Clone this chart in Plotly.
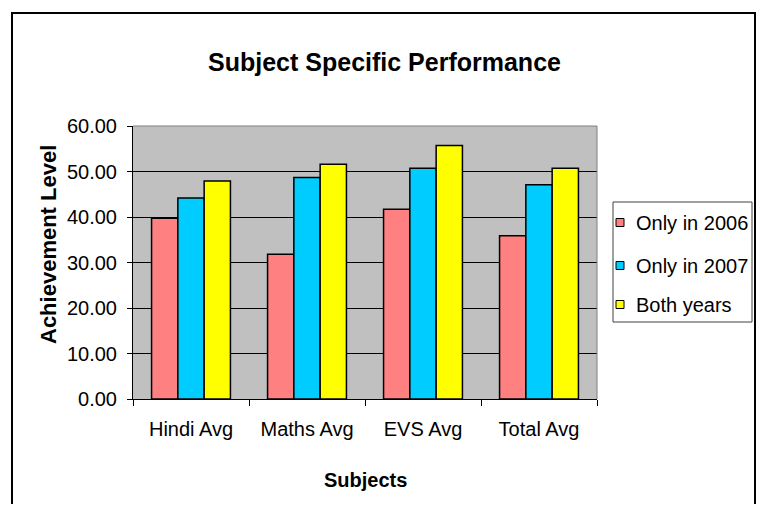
import plotly.graph_objects as go

# ---- data ----
categories = ["Hindi Avg", "Maths Avg", "EVS Avg", "Total Avg"]
series_names = ["Only in 2006", "Only in 2007", "Both years"]
only_2006 = [39.7, 31.8, 41.7, 35.9]
only_2007 = [44.2, 48.7, 50.7, 47.1]
both_years = [47.9, 51.6, 55.7, 50.7]
series_values = [only_2006, only_2007, both_years]
colors = ["#FF8080", "#00CCFF", "#FFFF00"]

# page has an 8px body margin; work in page pixels and convert
OFF = 8
W, H = 764 - 2 * OFF, 512 - 2 * OFF
L, R, T, B = 133 - OFF, 597 - OFF, 126 - OFF, 399 - OFF
FONT = "Liberation Sans, Arial, sans-serif"


def px(x):
    """page x pixel -> paper x"""
    return (x - OFF - L) / (R - L)


def py(y):
    """page y pixel -> paper y"""
    return (B - (y - OFF)) / (B - T)


fig = go.Figure()
for name, vals, c in zip(series_names, series_values, colors):
    fig.add_trace(go.Bar(
        x=categories, y=vals, name=name,
        marker=dict(color=c, line=dict(color="black", width=1.5)),
        showlegend=False,
    ))

shapes = []
# plot area top/right border (grey)
shapes.append(dict(type="line", xref="paper", yref="paper", x0=0, x1=1, y0=1, y1=1,
                   line=dict(color="#808080", width=1), layer="above"))
shapes.append(dict(type="line", xref="paper", yref="paper", x0=1, x1=1, y0=0, y1=1,
                   line=dict(color="#808080", width=1), layer="above"))
# outer chart border
shapes.append(dict(type="rect", xref="paper", yref="paper",
                   x0=px(12), x1=px(755), y0=py(13), y1=py(540),
                   line=dict(color="black", width=2), fillcolor="rgba(0,0,0,0)", layer="above"))
# legend box
shapes.append(dict(type="rect", xref="paper", yref="paper",
                   x0=px(613), x1=px(752), y0=py(202), y1=py(322),
                   line=dict(color="#404040", width=1), fillcolor="white", layer="above"))

annotations = []
legend_y = [222.5, 265.5, 304.5]
for name, c, yc in zip(series_names, colors, legend_y):
    shapes.append(dict(type="rect", xref="paper", yref="paper",
                       x0=px(616), x1=px(624), y0=py(yc + 4), y1=py(yc - 4),
                       line=dict(color="black", width=1), fillcolor=c, layer="above"))
    annotations.append(dict(text=name, xref="paper", yref="paper", x=px(634), y=py(yc),
                            xanchor="left", yanchor="middle", showarrow=False,
                            font=dict(family=FONT, size=20, color="black")))

# axis titles
annotations.append(dict(text="<b>Subjects</b>", xref="paper", yref="paper",
                        x=px(365), y=py(480), xanchor="center", yanchor="middle",
                        showarrow=False, font=dict(family=FONT, size=20, color="black")))
annotations.append(dict(text="<b>Achievement Level</b>", xref="paper", yref="paper",
                        x=px(48), y=py(245), xanchor="center", yanchor="middle",
                        textangle=-90, showarrow=False,
                        font=dict(family=FONT, size=22, color="black")))

fig.update_layout(
    width=W, height=H,
    margin=dict(l=L, r=W - R, t=T, b=H - B, pad=0),
    paper_bgcolor="white",
    plot_bgcolor="#C0C0C0",
    barmode="group",
    bargap=0.32,
    bargroupgap=0,
    showlegend=False,
    title=dict(text="<b>Subject Specific Performance</b>", x=(384.5 - OFF) / W,
               xanchor="center", y=1 - (62 - OFF) / H, yanchor="middle",
               font=dict(family=FONT, size=25, color="black")),
    font=dict(family=FONT, color="black"),
    xaxis=dict(type="category", tickson="boundaries", ticks="outside", ticklen=6,
               tickcolor="black", showline=True, linecolor="black", linewidth=1,
               showgrid=False, ticklabelstandoff=12,
               tickfont=dict(family=FONT, size=20, color="black")),
    yaxis=dict(range=[0, 60], dtick=10, tickformat=".2f", ticks="outside", ticklen=5,
               tickcolor="black", showline=True, linecolor="black", linewidth=1,
               showgrid=True, gridcolor="black", gridwidth=1, zeroline=False,
               ticklabelstandoff=6,
               tickfont=dict(family=FONT, size=20, color="black")),
    shapes=shapes,
    annotations=annotations,
)

fig.write_html("out.html")
